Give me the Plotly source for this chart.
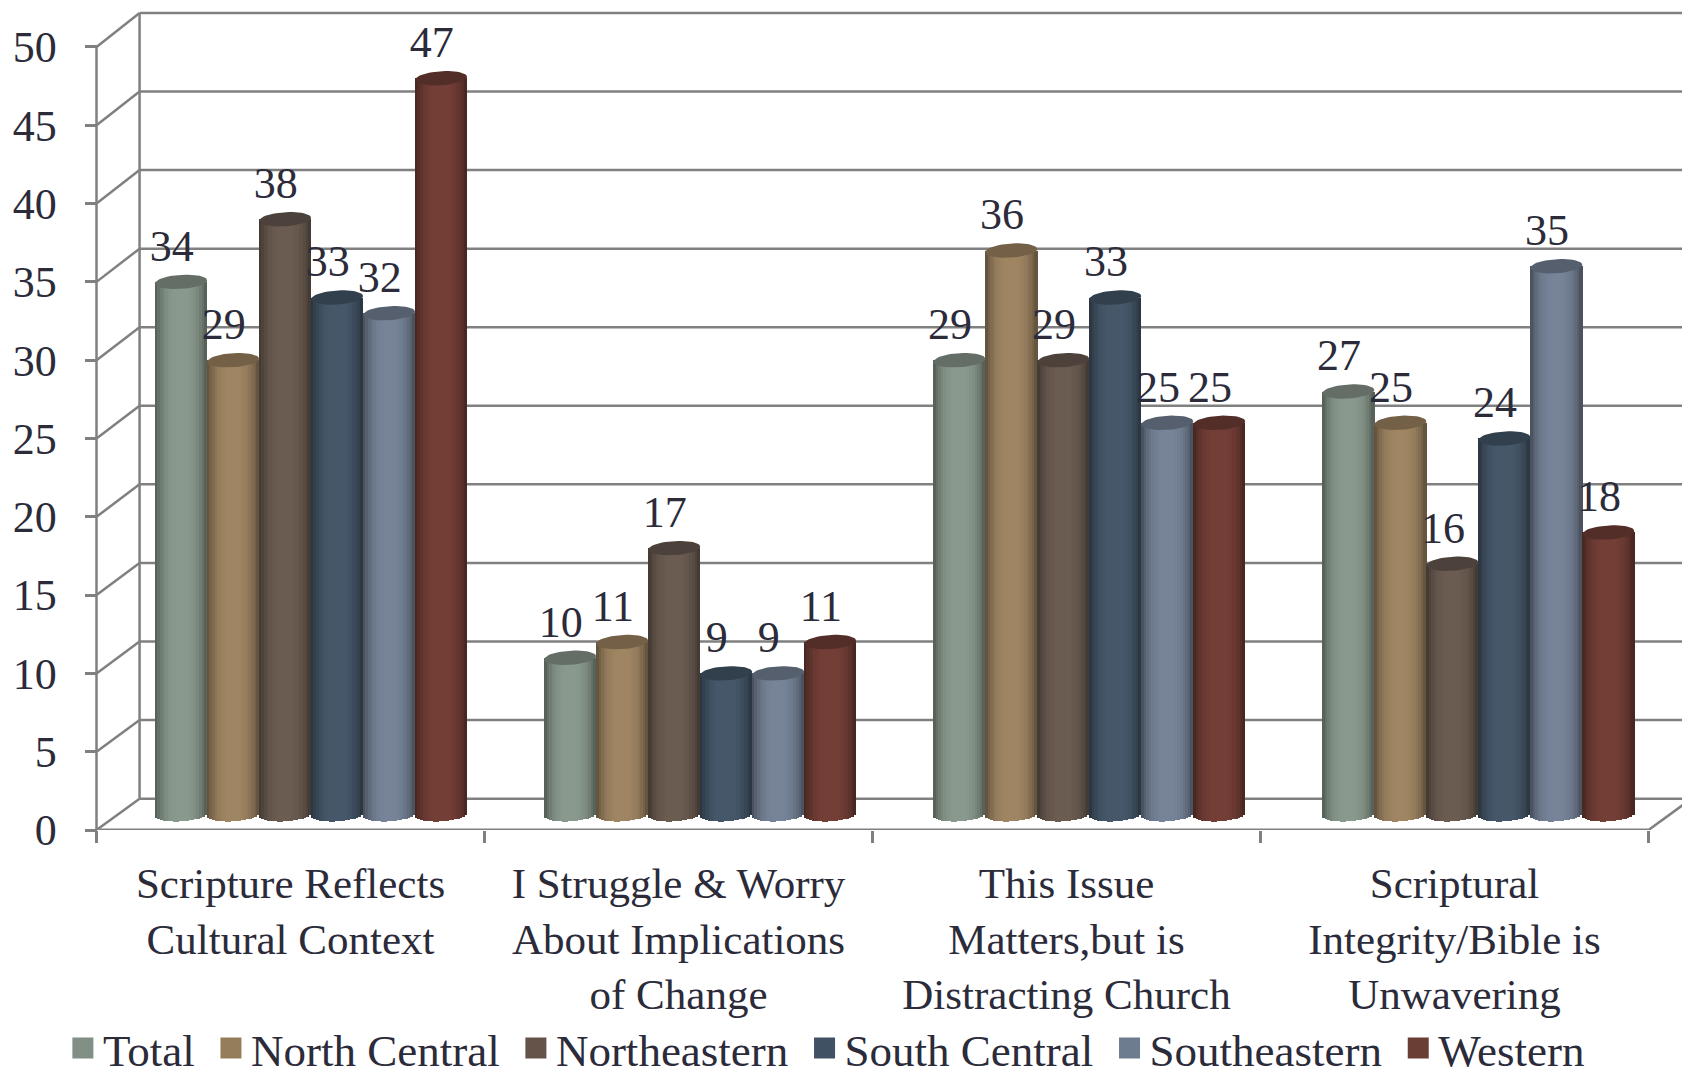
import numpy as np
import plotly.graph_objects as go

categories = ["Scripture Reflects<br>Cultural Context",
              "I Struggle &amp; Worry<br>About Implications<br>of Change",
              "This Issue<br>Matters,but is<br>Distracting Church",
              "Scriptural<br>Integrity/Bible is<br>Unwavering"]
series_names = ["Total", "North Central", "Northeastern", "South Central", "Southeastern", "Western"]
total = [34, 10, 29, 27]
north_central = [29, 11, 36, 25]
northeastern = [38, 17, 29, 16]
south_central = [33, 9, 33, 24]
southeastern = [32, 9, 25, 35]
western = [47, 11, 25, 18]
series_values = [total, north_central, northeastern, south_central, southeastern, western]
body_colors = ["#8b9a8e", "#a08663", "#6c5d52", "#46586a", "#778499", "#743f37"]
legend_colors = ["#818f85", "#967d5a", "#655349", "#3f5163", "#6e7c90", "#6b3e35"]
y_ticks = [0, 5, 10, 15, 20, 25, 30, 35, 40, 45, 50]

FONT = "Liberation Serif"
TEXT = "#2b2b3a"
GRID = "#808080"
W, H, PX_X, PX_Y, AXIS_Y, AXIS_X = 1690, 1074, 388.0, 15.67, 822.5, 88.5
BAR_W = 0.134       # bar width in category units
GROUP_STEP = 1.0028  # spacing of the bar clusters in category units
GROUP_OFF = 0.5 + 0.053
FLOOR = 1.0         # depth offset of the bar floor
DX, DY = 0.111, 2.0  # depth of the back wall
WALL_SCALE = 1.0035
B, TILT = 0.45, 0.10  # cylinder ellipse half-height and tilt
STRIPS = 20


def rgb(h, k):
    return "rgb(%d,%d,%d)" % tuple(min(255, int(int(h[i:i + 2], 16) * k)) for i in (1, 3, 5))


def shade(u):
    return 0.58 + 0.42 * (1 - abs(u) ** 2.8) ** 1.0


fig = go.Figure()
us = (np.arange(STRIPS) + 0.5) / STRIPS * 2 - 1
for i, (name, vals, col) in enumerate(zip(series_names, series_values, body_colors)):
    xs, ys, bases, cols = [], [], [], []
    cx, cy = [], []
    for k, v in enumerate(vals):
        c = k * GROUP_STEP + GROUP_OFF + (i - 2.5) * BAR_W
        top = v + FLOOR
        for u in us:
            lo = FLOOR - B * np.sqrt(1 - u * u) + TILT * u
            xs.append(c + u * BAR_W / 2)
            bases.append(lo)
            ys.append(top - lo)
            cols.append(rgb(col, shade(u)))
        th = np.linspace(0, 2 * np.pi, 50)
        cx += list(c + np.cos(th) * BAR_W / 2) + [None]
        cy += list(top + np.sin(th) * B + np.cos(th) * TILT) + [None]
    fig.add_trace(go.Bar(x=xs, y=ys, base=bases, width=BAR_W / STRIPS * 1.2,
                         marker=dict(color=cols, line=dict(width=0)),
                         showlegend=False, hoverinfo="skip"))
    fig.add_trace(go.Scatter(x=cx, y=cy, mode="lines", fill="toself", fillcolor=rgb(col, 0.72),
                             line=dict(width=0), showlegend=False, hoverinfo="skip"))
# labels
for i, vals in enumerate(series_values):
    fig.add_trace(go.Scatter(
        x=[k * GROUP_STEP + GROUP_OFF + (i - 2.5) * BAR_W - 0.024 for k in range(4)],
        y=[v + FLOOR + 2.05 for v in vals], text=[str(v) for v in vals],
        mode="text", textposition="middle center",
        textfont=dict(family=FONT, size=44, color=TEXT), showlegend=False, hoverinfo="skip"))
# legend entries
for name, col in zip(series_names, legend_colors):
    fig.add_trace(go.Scatter(x=[-5], y=[-5], mode="markers", name=name + "\u00a0",
                             marker=dict(symbol="square", size=24, color=col,
                                         line=dict(color=col, width=5))))

x_end = (W - AXIS_X) / PX_X
shapes = []


def line(x0, y0, x1, y1, width=2.5):
    shapes.append(dict(type="line", xref="x", yref="y", x0=x0, y0=y0, x1=x1, y1=y1,
                       line=dict(color=GRID, width=width), layer="below"))


for t in y_ticks:
    back = t * WALL_SCALE + DY
    line(DX, back, x_end, back)
    line(0, t, DX, back)
line(DX, DY, DX, 50 * WALL_SCALE + DY)
line(0, 0, 0, 50)
line(0, 0, 4, 0, 3)
line(4, 0, x_end, (x_end - 4) / DX * DY)

fig.update_layout(
    width=W, height=H, margin=dict(l=0, r=0, t=0, b=H - AXIS_Y, autoexpand=False),
    paper_bgcolor="white", plot_bgcolor="white", barmode="overlay", bargap=0,
    shapes=shapes, font=dict(family=FONT, size=43, color=TEXT),
    legend=dict(orientation="h", x=0.4875, xanchor="center", y=(AXIS_Y - 1041) / AXIS_Y, yanchor="middle",
                itemsizing="trace", font=dict(family=FONT, size=45, color=TEXT),
                bgcolor="rgba(0,0,0,0)", itemclick=False, itemdoubleclick=False),
    xaxis=dict(range=[-AXIS_X / PX_X, x_end], domain=[0, 1], tickmode="array",
               tickvals=[k + 0.5 for k in range(4)], ticktext=categories, tickangle=0,
               ticks="outside", ticklen=15, tickcolor="rgba(0,0,0,0)", showgrid=False, zeroline=False,
               showline=False, automargin=False, tickfont=dict(family=FONT, size=43, color=TEXT),
               minor=dict(tick0=0, dtick=1, ticks="outside", ticklen=12, tickcolor=GRID, tickwidth=2.5, showgrid=False)),
    yaxis=dict(range=[0, AXIS_Y / PX_Y], tickmode="array", tickvals=y_ticks, anchor="free",
               position=AXIS_X / W, ticks="outside", ticklen=31, tickcolor="rgba(0,0,0,0)",
               showgrid=False, zeroline=False, showline=False, automargin=False,
               tickfont=dict(family=FONT, size=44, color=TEXT),
               minor=dict(tick0=0, dtick=5, ticks="outside", ticklen=12, tickcolor=GRID, tickwidth=2.5, showgrid=False)),
)
fig.write_html("out.html")
